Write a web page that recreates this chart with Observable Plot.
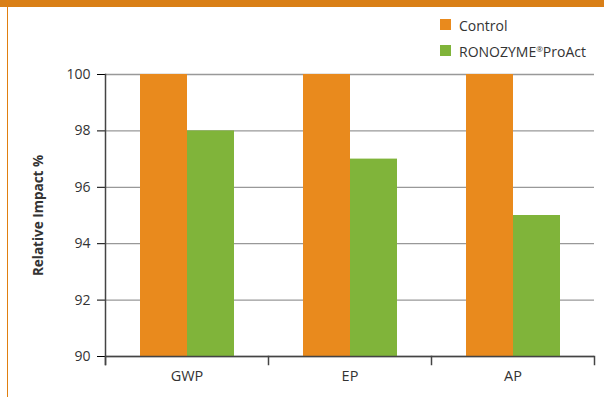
<!DOCTYPE html>
<html>
<head>
<meta charset="utf-8">
<script src="https://cdn.jsdelivr.net/npm/d3@7"></script>
<script src="https://cdn.jsdelivr.net/npm/@observablehq/plot@0.6"></script>
<style>
  html, body { margin: 0; padding: 0; background: #fff; }
  body { width: 604px; height: 397px; position: relative; overflow: hidden; font-family: "Open Sans", sans-serif; }
  #banner { position: absolute; left: 0; top: 0; width: 604px; height: 7px; background: #D97F17; }
  #sideline { position: absolute; left: 7px; top: 0; width: 1px; height: 397px; background: #E07F10; }
  #chart { position: absolute; left: 0; top: 0; }
  #legend { position: absolute; left: 440px; top: 11px; font-size: 14px; color: #333; }
  .item { display: flex; align-items: center; height: 26px; }
  .item span { position: relative; top: 1px; }
  .item sup { font-size: 8px; vertical-align: 0; position: relative; top: -5px; }
  .sw { width: 11px; height: 11px; margin-right: 8px; }
  #chart svg text { fill: #333; }
  #chart svg [aria-label="fx-axis tick label"] text { font-size: 14.5px; }
  #chart svg [aria-label="y-axis label"] text { font-weight: bold; font-size: 13.5px; }
</style>
</head>
<body>
<div id="banner"></div>
<div id="sideline"></div>
<div id="chart"></div>
<div id="legend"></div>
<script>
const categories = ["GWP", "EP", "AP"];
const seriesNames = ["Control", "RONOZYME®ProAct"];
const controlValues = [100, 100, 100];
const ronozymeValues = [98, 97, 95];
const yTicks = [90, 92, 94, 96, 98, 100];
const colors = ["#E98A1D", "#80B43A"];

const table = [];
categories.forEach((c, i) => {
  table.push({category: c, series: seriesNames[0], value: controlValues[i]});
  table.push({category: c, series: seriesNames[1], value: ronozymeValues[i]});
});

const H = 397, mT = 74, mB = 41;
const innerH = H - mT - mB;

const chart = Plot.plot({
  width: 604,
  height: H,
  marginLeft: 104,
  marginRight: 10,
  marginTop: mT,
  marginBottom: mB,
  style: {fontFamily: "'Open Sans', sans-serif", fontSize: "14px", background: "transparent"},
  fx: {domain: categories, padding: 0, label: null, axis: "bottom", tickSize: 0, tickPadding: 14},
  x: {domain: seriesNames, paddingInner: 0, paddingOuter: 0.734, axis: null},
  y: {domain: [90, 100], ticks: yTicks, tickSize: 8, tickPadding: 7, label: "Relative Impact %", labelAnchor: "center", labelOffset: 72, labelArrow: "none"},
  color: {domain: seriesNames, range: colors},
  marks: [
    Plot.gridY(yTicks, {stroke: "#999", strokeOpacity: 1, strokeWidth: 1.3}),
    Plot.barY(table, {fx: "category", x: "series", y1: 90, y2: "value", fill: "series"}),
    Plot.ruleY([90], {stroke: "#444", strokeWidth: 1.5}),
    Plot.frame({anchor: "left", facetAnchor: "left", insetBottom: -8, stroke: "#444", strokeWidth: 1.5}),
    Plot.frame({anchor: "left", insetTop: innerH, insetBottom: -8, stroke: "#444", strokeWidth: 1.5}),
    Plot.frame({anchor: "right", facetAnchor: "right", insetTop: innerH, insetBottom: -8, stroke: "#444", strokeWidth: 1.5})
  ]
});
document.getElementById("chart").appendChild(chart);

const legend = document.getElementById("legend");
seriesNames.forEach((s, i) => {
  const item = document.createElement("div");
  item.className = "item";
  const sw = document.createElement("div");
  sw.className = "sw";
  sw.style.background = colors[i];
  const label = document.createElement("span");
  const parts = s.split("®");
  label.appendChild(document.createTextNode(parts[0]));
  if (parts.length > 1) {
    const sup = document.createElement("sup");
    sup.textContent = "®";
    label.appendChild(sup);
    label.appendChild(document.createTextNode(parts[1]));
  }
  item.appendChild(sw);
  item.appendChild(label);
  legend.appendChild(item);
});
</script>
</body>
</html>
